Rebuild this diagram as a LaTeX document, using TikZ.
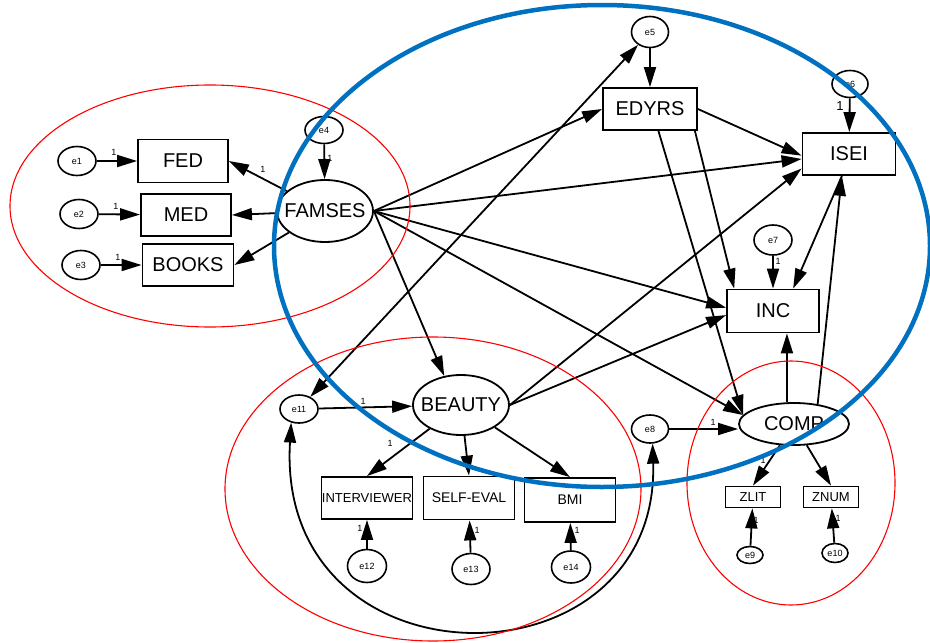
\documentclass[tikz,border=0pt]{standalone}
\usepackage{fontspec}
\setmainfont{Liberation Sans}
\usetikzlibrary{arrows.meta,shapes.geometric}
\definecolor{amosblue}{RGB}{0,112,192}
\begin{document}
\begin{tikzpicture}[x=1pt,y=-1pt,
  box/.style={draw, line width=1.8pt, rectangle, inner sep=0pt, minimum width=91pt, minimum height=42pt, font=\fontsize{20}{22}\selectfont},
  smallbox/.style={box, font=\fontsize{13}{15}\selectfont},
  tinybox/.style={box, minimum width=55pt, minimum height=21pt, font=\fontsize{13}{15}\selectfont},
  lat/.style={draw, ellipse, line width=1.8pt, inner xsep=-14pt, inner ysep=-2pt, font=\fontsize{20}{22}\selectfont},
  err/.style={draw, ellipse, line width=1.6pt, inner xsep=-3pt, inner ysep=-2pt, minimum width=38pt, minimum height=29pt, font=\fontsize{9}{10}\selectfont},
  one/.style={font=\fontsize{9}{10}\selectfont, inner sep=0pt},
  arr/.style={line width=1.8pt, -{Triangle[length=20pt,width=12pt]}},
  biarr/.style={line width=1.8pt, {Triangle[length=20pt,width=12pt]}-{Triangle[length=20pt,width=12pt]}},
  redring/.style={draw=red, line width=1.1pt},
  bluering/.style={draw=amosblue, line width=4.5pt}
]
\useasboundingbox (0,0) rectangle (930,643);
\fill[white] (0,0) rectangle (930,643);

% nodes
\node[err] (e1) at (77,161) {e1};
\node[err] (e2) at (79,214) {e2};
\node[err] (e3) at (81,265) {e3};
\node[err, minimum height=27pt] (e4) at (324,130) {e4};
\node[box, minimum width=90pt, minimum height=43pt] (FED) at (183,161) {FED};
\node[box, minimum width=90pt] (MED) at (186,215) {MED};
\node[box] (BOOKS) at (188,265) {BOOKS};
\node[lat, minimum width=96pt, minimum height=62pt] (FAMSES) at (325,211) {FAMSES};
\node[err, minimum width=37pt, minimum height=31pt] (e5) at (650,32) {e5};
\node[box, minimum width=94pt] (EDYRS) at (650,109) {EDYRS};
\node[err, minimum width=36pt, minimum height=27pt] (e6) at (850,84) {e6};
\node[box, minimum width=93pt] (ISEI) at (849,154) {ISEI};
\node[err, minimum height=30pt] (e7) at (773,240) {e7};
\node[box, minimum width=92pt, minimum height=43pt] (INC) at (773,311) {INC};
\node[lat, minimum width=110pt, minimum height=42pt] (COMP) at (794,424) {COMP};
\node[err, minimum width=37pt, minimum height=28pt] (e8) at (650,429) {e8};
\node[tinybox] (ZLIT) at (753,497) {ZLIT};
\node[tinybox] (ZNUM) at (831,497) {ZNUM};
\node[err, minimum width=26pt, minimum height=17pt] (e9) at (750,555) {e9};
\node[err, minimum width=26pt, minimum height=19pt] (e10) at (835,553) {e10};
\node[lat, minimum width=96pt, minimum height=60pt] (BEAUTY) at (461,405) {BEAUTY};
\node[err, minimum height=28pt] (e11) at (299,409) {e11};
\node[smallbox] (INTV) at (367,498) {INTERVIEWER};
\node[smallbox, font=\fontsize{14}{16}\selectfont, minimum height=43pt] (SELF) at (469,498) {SELF-EVAL};
\node[smallbox, font=\fontsize{14}{16}\selectfont, minimum height=44pt] (BMI) at (570,500) {BMI};
\node[err, minimum width=39pt, minimum height=33pt] (e12) at (367,566) {e12};
\node[err, minimum height=31pt] (e13) at (471,569) {e13};
\node[err, minimum width=39pt, minimum height=32pt] (e14) at (571,567) {e14};

% measurement paths
\draw[arr] (e1) -- (FED);
\draw[arr] (e2) -- (MED);
\draw[arr] (e3) -- (BOOKS);
\draw[arr] (e4) -- (FAMSES);
\draw[arr] (FAMSES) -- (FED.east);
\draw[arr] (FAMSES) -- (MED.east);
\draw[arr] (FAMSES) -- (BOOKS.east);

% structural paths from FAMSES
\draw[arr] (FAMSES.east) -- (EDYRS.west);
\draw[arr] (FAMSES.east) -- (ISEI.186);
\draw[arr] (FAMSES.east) -- (INC.176);
\draw[arr] (FAMSES.east) -- (COMP.170);
\draw[arr] (FAMSES.east) -- (BEAUTY.120);

% EDYRS
\draw[arr] (e5) -- (EDYRS);
\draw[biarr] (e5) -- (e11);
\draw[arr] (EDYRS.east) -- (ISEI.182);
\draw[arr] (EDYRS.334) -- (INC.150);
\draw[arr] (EDYRS.291) -- (COMP.170);

% ISEI / INC / COMP
\draw[arr] (e6) -- (ISEI);
\draw[arr] (e7) -- (INC);
\draw[arr] (ISEI.252) -- (INC.48);
\draw[arr] (COMP.40) -- (ISEI.252);
\draw[arr] (COMP.108) -- (COMP.108 |- INC.south);
\draw[arr] (e8.east) -- (COMP.west |- e8.east);
\draw[arr] (COMP) -- (ZLIT.north);
\draw[arr] (COMP) -- (ZNUM.north);
\draw[arr] (e9) -- (ZLIT);
\draw[arr] (e10) -- (ZNUM);

% BEAUTY
\draw[arr] (BEAUTY.east) -- (ISEI.197);
\draw[arr] (BEAUTY.east) -- (INC.185);
\draw[arr] (e11) -- (BEAUTY);
\draw[arr] (BEAUTY) -- (INTV.north);
\draw[arr] (BEAUTY) -- (SELF.north);
\draw[arr] (BEAUTY) -- (BMI.north);
\draw[arr] (e12) -- (INTV);
\draw[arr] (e13) -- (SELF);
\draw[arr] (e14) -- (BMI);

% covariance e11 - e8
\draw[biarr] (e11.240) .. controls (275,693) and (660,693) .. (e8.280);

% weight labels
\node[one] (l1) at (114,152) {1};
\node[one] (l2) at (116,206) {1};
\node[one] (l3) at (118,257) {1};
\node[one] (l4) at (263,169) {1};
\node[one] (l5) at (330,158) {1};
\node[one, font=\fontsize{13}{14}\selectfont] (l6) at (840,106) {1};
\node[one] (l7) at (778,261) {1};
\node[one] (l8) at (713,422) {1};
\node[one] (l9) at (763,460) {1};
\node[one] (l10) at (756,520) {1};
\node[one] (l11) at (838,518) {1};
\node[one] (l12) at (363,401) {1};
\node[one] (l13) at (390,443) {1};
\node[one] (l14) at (360,528) {1};
\node[one] (l15) at (477,530) {1};
\node[one] (l16) at (577,530) {1};

% group outlines
\draw[redring] (210,206) ellipse [x radius=200pt, y radius=121pt];
\draw[redring] (433,489) ellipse [x radius=208pt, y radius=152pt];
\draw[redring] (791,483) ellipse [x radius=104pt, y radius=122pt];
\draw[bluering] (602,246) ellipse [x radius=328pt, y radius=241pt];
\end{tikzpicture}
\end{document}
